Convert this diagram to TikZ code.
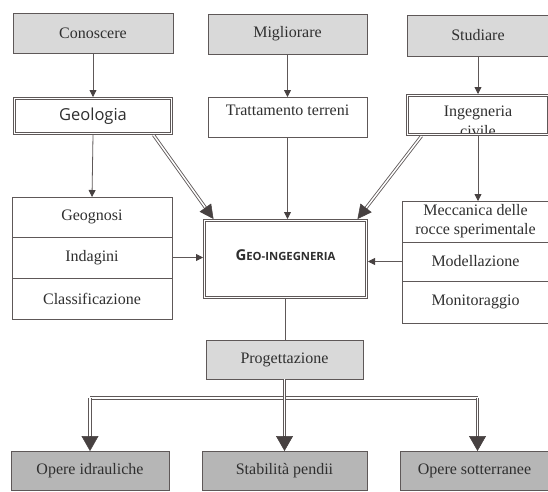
\documentclass[tikz,border=0pt]{standalone}
\usepackage{fontspec}
\setmainfont{Liberation Serif}
\newfontfamily\geosans{Open Sans}
\usetikzlibrary{arrows.meta,calc}
\definecolor{edge}{HTML}{5E5858}
\definecolor{tipc}{HTML}{474141}
\definecolor{lightfill}{HTML}{D9D9D9}
\definecolor{darkfill}{HTML}{B6B6B6}
\definecolor{txt}{HTML}{2F2F2F}
\begin{document}
\begin{tikzpicture}[x=1pt,y=-1pt,
  box/.style={draw=edge, line width=0.9pt, rectangle, anchor=north west,
    inner sep=0pt, outer sep=0pt, align=center, text=txt,
    font=\fontsize{16}{19}\selectfont},
  topbox/.style={box, fill=lightfill},
  botbox/.style={box, fill=darkfill},
  dbox/.style={box, double=white, double distance=1.6pt, line width=0.8pt},
  arr/.style={draw=edge, line width=0.8pt,
    -{Triangle[length=7pt, width=7pt, color=tipc, fill=tipc]}},
  plain/.style={draw=edge, line width=0.8pt},
  dline/.style={draw=edge, double=white, double distance=1.5pt, line width=0.85pt},
  tipsmall/.style={draw=tipc, line width=0.5pt, -{Triangle[length=14pt, width=14pt, color=tipc, fill=tipc]}},
  tipbig/.style={draw=tipc, line width=0.5pt, -{Triangle[length=15pt, width=17pt, color=tipc, fill=tipc]}}
]
\fill[white] (0,0) rectangle (548,491);
\useasboundingbox (0,0) rectangle (548,491);

% top row
\node[topbox, minimum width=160pt, minimum height=40pt] (con) at (13,13) {Conoscere};
\node[topbox, minimum width=159pt, minimum height=40pt] (mig) at (208,14) {Migliorare};
\node[topbox, minimum width=142pt, minimum height=41pt] (stu) at (407,15) {Studiare};

% second row
\node[dbox, minimum width=157pt, minimum height=35pt, font=\geosans\fontsize{16.5}{19}\selectfont] (geo) at (14.5,98.5) {Geologia};
\node[box, minimum width=159pt, minimum height=40pt, text height=11pt, text depth=15pt] (trat) at (208,97) {Trattamento terreni};
\node[dbox, minimum width=141pt, minimum height=39pt] (ing) at (407.5,95.5) {};
\begin{scope}
  \clip ($(ing.north west)+(2,2)$) rectangle ($(ing.south east)+(-2,-2.2)$);
  \node[align=center, text=txt, font=\fontsize{16}{20}\selectfont, anchor=north, inner sep=0pt] (ingtext) at ($(ing.north)+(0,10)$) {Ingegneria\\civile};
\end{scope}

% left stack
\node[box, minimum width=160pt, minimum height=40pt] (gno) at (12,197) {Geognosi};
\node[box, minimum width=160pt, minimum height=41pt] (ind) at (12,237) {Indagini};
\node[box, minimum width=160pt, minimum height=41pt] (cla) at (12,278) {Classificazione};

% right stack
\node[box, minimum width=147pt, minimum height=41pt, font=\fontsize{16}{19}\selectfont] (mec) at (402,201) {Meccanica delle\\rocce sperimentale};
\node[box, minimum width=147pt, minimum height=39pt] (mod) at (402,242) {Modellazione};
\node[box, minimum width=147pt, minimum height=42pt] (mon) at (402,281) {Monitoraggio};

% centre
\node[dbox, minimum width=162pt, minimum height=77pt, font=\geosans\bfseries, text height=11pt, text depth=8pt] (cen) at (204.5,220.5)
  {{\fontsize{15}{17}\selectfont G}{\fontsize{11.3}{17}\selectfont EO-INGEGNERIA}};

% progettazione
\node[topbox, minimum width=157pt, minimum height=39pt] (prog) at (206,340) {Progettazione};

% bottom row
\node[botbox, minimum width=158pt, minimum height=39pt] (opi) at (11,451) {Opere idrauliche};
\node[botbox, minimum width=165pt, minimum height=39pt] (sta) at (202,451) {Stabilità pendii};
\node[botbox, minimum width=149pt, minimum height=39pt] (ops) at (400,451) {Opere sotterranee};

% single connectors
\draw[arr] (con.south) -- ($(geo.north)+(0,-1.5)$);
\draw[arr] ($(geo.south)+(0,1.5)$) -- (gno.north);
\draw[arr] (mig.south) -- (trat.north);
\draw[arr] (trat.south) -- ($(trat.south |- cen.north)+(0,-1.5)$);
\draw[arr] (stu.south) -- ($(stu.south |- ing.north)+(0,-1.5)$);
\draw[arr] ($(stu.south |- ing.south)+(0,1.5)$) -- (stu.south |- mec.north);
\draw[arr] (ind.east) -- ($(ind.east -| cen.west)+(-1.5,0)$);
\draw[arr] (mod.west) -- ($(mod.west -| cen.east)+(1.5,0)$);
\draw[plain] ($(cen.south)+(0,1.5)$) -- (cen.south |- prog.north);

% double arrows into the centre
\coordinate (gs) at ($(geo.south east)+(-18,1.5)$);
\coordinate (gt) at ($(cen.north west)+(9,-1.5)$);
\draw[dline] (gs) -- ($(gt)!13pt!(gs)$);
\draw[tipsmall] ($(gt)!14pt!(gs)$) -- (gt);
\coordinate (is) at ($(ing.south west)+(14,1.5)$);
\coordinate (it) at ($(cen.north east)+(-9,-1.5)$);
\draw[dline] (is) -- ($(it)!13pt!(is)$);
\draw[tipsmall] ($(it)!14pt!(is)$) -- (it);

% distribution to the bottom row
\coordinate (j) at ($(prog.south)+(0,19)$);
\coordinate (jl) at (opi.north |- j);
\coordinate (jr) at ($(ops.north |- j)+(3,0)$);
\coordinate (tl) at (opi.north);
\coordinate (tm) at (j |- sta.north);
\coordinate (tr) at ($(ops.north)+(3,0)$);
\draw[dline] (jl) -- (jr);
\draw[dline] (prog.south) -- (j);
\draw[dline] (jl) -- ($(tl)+(0,-14)$);
\draw[dline] (j) -- ($(tm)+(0,-14)$);
\draw[dline] (jr) -- ($(tr)+(0,-14)$);
\draw[tipbig] ($(tl)+(0,-15)$) -- (tl);
\draw[tipbig] ($(tm)+(0,-15)$) -- (tm);
\draw[tipbig] ($(tr)+(0,-15)$) -- (tr);
\end{tikzpicture}
\end{document}
